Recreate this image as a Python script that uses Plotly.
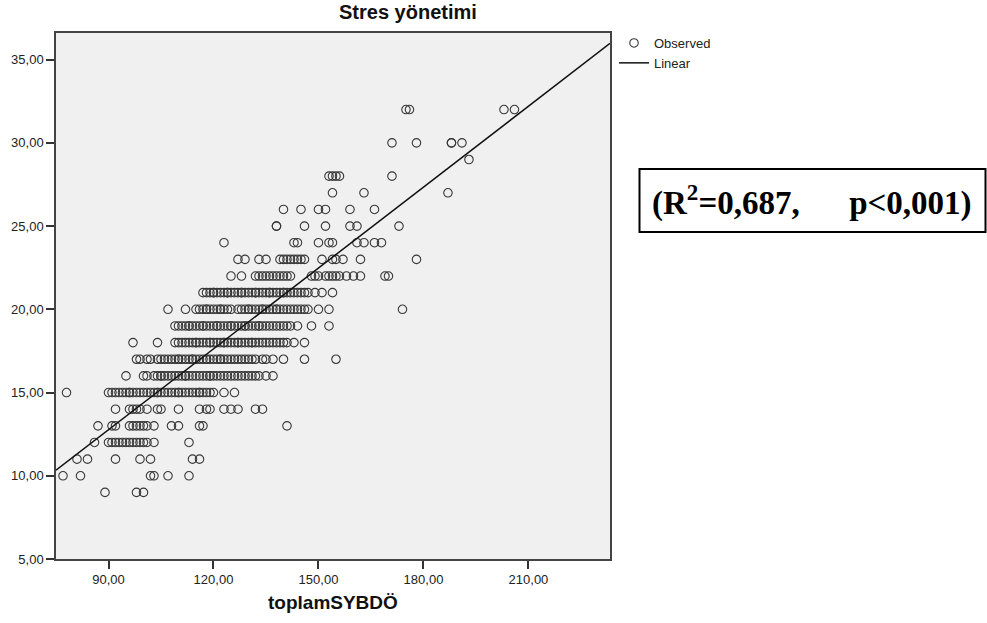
import plotly.graph_objects as go

# ---- data (x values of observed points, grouped by their y value) ----
r32 = [175, 176, 203, 206]
r30 = [171, 178, 188, 188, 191]
r29 = [193]
r28 = [153, 154, 155, 156, 171]
r27 = [154, 163, 187]
r26 = [140, 145, 150, 152, 159, 166]
r25 = [138, 138, 146, 152, 159, 161, 173]
r24 = [123, 143, 144, 150, 153, 154, 161, 163, 166, 168]
r23 = [127, 129, 133, 135, 139, 140, 141, 142, 143, 144, 145, 146, 151, 154, 155, 157, 162, 178]
r22 = [125, 128, 132, 133, 134, 135, 136, 137, 138, 139, 140, 141, 142, 148, 149, 150,
       152, 153, 154, 155, 156, 158, 160, 162, 169, 170]
r21 = [117, 118, 119, 120, 121, 122, 123, 124, 125, 126, 127, 128, 129, 130, 131, 132,
       133, 134, 135, 136, 137, 138, 139, 140, 141, 142, 143, 144, 145, 146, 147, 149,
       151, 154, 120, 124, 128, 132, 136, 140]
r20 = [107, 112, 115, 116, 117, 118, 119, 120, 121, 122, 123, 124, 125, 127, 128, 129,
       130, 131, 132, 133, 134, 135, 136, 137, 138, 139, 140, 141, 142, 143, 144, 145,
       146, 147, 150, 153, 174, 118, 122, 130, 134, 138]
r19 = [109, 110, 111, 112, 113, 114, 115, 116, 117, 118, 119, 120, 121, 122, 123, 124,
       125, 126, 127, 128, 129, 130, 131, 132, 133, 134, 135, 136, 137, 138, 139, 140,
       141, 142, 144, 148, 153, 113, 117, 121, 125, 129, 133]
r18 = [97, 104, 109, 110, 111, 112, 113, 114, 115, 116, 117, 118, 119, 120, 121, 122,
       123, 124, 125, 126, 127, 128, 129, 130, 131, 132, 133, 134, 135, 136, 137, 138,
       139, 140, 141, 143, 146, 115, 119, 123, 127, 131]
r17 = [98, 99, 101, 102, 104, 105, 106, 107, 108, 109, 110, 111, 112, 113, 114, 115,
       116, 117, 118, 119, 120, 121, 122, 123, 124, 125, 126, 127, 128, 129, 130, 131,
       132, 134, 135, 137, 140, 146, 155, 110, 114, 118, 122]
r16 = [95, 100, 101, 103, 104, 105, 106, 107, 108, 109, 110, 111, 112, 113, 114, 115,
       116, 117, 118, 119, 120, 121, 122, 123, 124, 125, 126, 127, 128, 129, 130, 131,
       132, 133, 135, 137, 105, 112, 119]
r15 = [78, 90, 91, 92, 93, 94, 95, 96, 97, 98, 99, 100, 101, 102, 103, 104, 105, 106,
       107, 108, 109, 110, 111, 112, 113, 114, 115, 116, 117, 118, 119, 120, 123, 126,
       96, 104, 110, 116]
r14 = [92, 96, 97, 98, 99, 101, 104, 105, 110, 116, 118, 119, 123, 125, 127, 132, 134]
r13 = [87, 91, 92, 96, 97, 98, 99, 100, 101, 103, 108, 110, 116, 117, 141]
r12 = [86, 90, 91, 92, 93, 94, 95, 96, 97, 98, 99, 100, 101, 103, 113]
r11 = [81, 84, 92, 99, 102, 114, 116]
r10 = [77, 82, 102, 103, 107, 113]
r9 = [89, 98, 100]

rows = [(32, r32), (30, r30), (29, r29), (28, r28), (27, r27), (26, r26), (25, r25),
        (24, r24), (23, r23), (22, r22), (21, r21), (20, r20), (19, r19), (18, r18),
        (17, r17), (16, r16), (15, r15), (14, r14), (13, r13), (12, r12), (11, r11),
        (10, r10), (9, r9)]

# linear fit
fit_intercept = -1.82
fit_slope = 0.162

x_range = [75.0, 233.3]
y_range = [5.0, 36.6]
x_ticks = [90, 120, 150, 180, 210]
y_ticks = [5, 10, 15, 20, 25, 30, 35]

xs, ys = [], []
for yv, row in rows:
    for xv in row:
        xs.append(xv)
        ys.append(yv)

line_x = list(x_range)
line_y = [fit_intercept + fit_slope * v for v in line_x]

W, H = 987, 623
L, R, T, B = 56, 610, 33, 559


def px(xp):
    return (xp - L) / (R - L)


def py(yp):
    return (B - yp) / (B - T)


fig = go.Figure()
fig.add_trace(go.Scatter(
    x=xs, y=ys, mode="markers", name="Observed",
    marker=dict(symbol="circle-open", size=8.5, color="#383838",
                line=dict(width=1.1, color="#383838")),
))
fig.add_trace(go.Scatter(
    x=line_x, y=line_y, mode="lines", name="Linear",
    line=dict(color="#111111", width=1.5),
))

axis_common = dict(
    showline=True, mirror=True, linecolor="#444444", linewidth=1.5,
    ticks="outside", ticklen=8, tickwidth=1.5, tickcolor="#333333",
    showgrid=False, zeroline=False, tickformat=".2f",
    tickfont=dict(family="Liberation Sans, Arial", size=13, color="#222222"),
)

fig.update_xaxes(range=x_range, tickvals=x_ticks, **axis_common)
fig.update_yaxes(range=y_range, tickvals=y_ticks, **axis_common)

fig.update_layout(
    width=W, height=H,
    margin=dict(l=L, r=W - R, t=T, b=H - B, pad=0),
    paper_bgcolor="white", plot_bgcolor="#f0f0f0",
    separators=",.",
    showlegend=True,
    legend=dict(x=px(614), y=py(28), xanchor="left", yanchor="top",
                font=dict(family="Liberation Sans, Arial", size=13, color="#222222"),
                bgcolor="rgba(0,0,0,0)", tracegroupgap=0, itemwidth=30),
    font=dict(family="Liberation Sans, Arial", color="#222222"),
)

# title
fig.add_annotation(text="<b>Stres yönetimi</b>", xref="paper", yref="paper",
                   x=px(408), y=py(12), xanchor="center", yanchor="middle",
                   showarrow=False,
                   font=dict(family="Liberation Sans, Arial", size=20, color="#111111"))
# x axis label
fig.add_annotation(text="<b>toplamSYBDÖ</b>", xref="paper", yref="paper",
                   x=px(333), y=py(602), xanchor="center", yanchor="middle",
                   showarrow=False,
                   font=dict(family="Liberation Sans, Arial", size=19, color="#111111"))

# statistics box
fig.add_shape(type="rect", xref="paper", yref="paper",
              x0=px(639.5), x1=px(985.5), y0=py(232), y1=py(169),
              line=dict(color="black", width=2), fillcolor="white", layer="above")
fig.add_annotation(text="<b>(R<sup>2</sup>=0,687,\u00a0\u00a0\u00a0\u00a0\u00a0\u00a0p&lt;0,001)</b>",
                   xref="paper", yref="paper", x=px(650), y=py(201),
                   xanchor="left", yanchor="middle", showarrow=False,
                   font=dict(family="Liberation Serif, Times New Roman", size=33, color="black"))

fig.write_html("out.html",
               config={"displayModeBar": False},
               post_script="document.body.style.margin='0px';document.body.style.overflow='hidden';")
